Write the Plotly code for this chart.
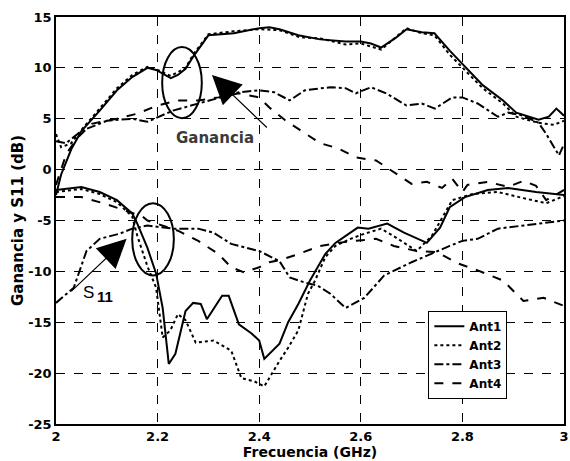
import plotly.graph_objects as go

# ---------------- data ----------------
# Gain curves
g1_x = [2.0, 2.01, 2.03, 2.05, 2.086, 2.12, 2.15, 2.18, 2.197, 2.215, 2.226, 2.24, 2.255, 2.27, 2.30, 2.35, 2.40, 2.42, 2.44, 2.477, 2.52, 2.57, 2.60, 2.62, 2.64, 2.67, 2.69, 2.72, 2.745, 2.775, 2.805, 2.84, 2.88, 2.906, 2.95, 2.97, 2.985, 3.0]
g1_y = [-2.5, -0.5, 2.0, 3.8, 5.8, 7.8, 9.1, 10.0, 9.8, 9.3, 9.0, 9.3, 9.9, 11.1, 13.2, 13.4, 13.9, 14.0, 13.8, 13.2, 12.8, 12.6, 12.6, 12.4, 12.0, 13.0, 13.8, 13.5, 13.4, 11.7, 10.1, 8.3, 6.8, 5.6, 4.9, 5.2, 6.0, 5.3]

g2_x = [2.0, 2.01, 2.03, 2.05, 2.086, 2.12, 2.15, 2.18, 2.2, 2.226, 2.255, 2.27, 2.3, 2.35, 2.4, 2.44, 2.48, 2.52, 2.57, 2.6, 2.64, 2.69, 2.72, 2.745, 2.775, 2.805, 2.84, 2.88, 2.906, 2.95, 2.98, 3.0]
g2_y = [3.5, 2.2, 2.6, 3.9, 6.0, 8.0, 9.3, 10.1, 9.8, 9.2, 10.0, 11.3, 13.3, 13.6, 13.8, 13.7, 13.0, 12.9, 12.3, 12.4, 11.8, 13.9, 13.4, 13.2, 11.3, 9.8, 8.0, 6.5, 5.2, 4.6, 4.4, 4.8]

g3_x = [2.0, 2.02, 2.05, 2.1, 2.15, 2.18, 2.23, 2.28, 2.32, 2.36, 2.4, 2.43, 2.46, 2.49, 2.54, 2.57, 2.59, 2.62, 2.65, 2.69, 2.72, 2.746, 2.78, 2.80, 2.83, 2.87, 2.89, 2.92, 2.95, 2.965, 2.99, 3.0]
g3_y = [2.8, 2.6, 3.8, 4.8, 5.0, 4.7, 5.8, 6.5, 7.1, 7.6, 7.8, 7.6, 6.8, 7.8, 8.1, 8.0, 7.5, 8.1, 7.5, 6.3, 6.5, 6.0, 7.1, 7.1, 6.5, 5.2, 5.6, 5.3, 4.6, 3.5, 1.4, 2.5]

g4_x = [2.0, 2.02, 2.04, 2.07, 2.12, 2.16, 2.2, 2.24, 2.28, 2.32, 2.36, 2.4, 2.42, 2.45, 2.48, 2.52, 2.555, 2.59, 2.63, 2.66, 2.70, 2.73, 2.76, 2.78, 2.80, 2.81, 2.85, 2.89, 2.92, 2.945, 2.965, 3.0]
g4_y = [-1.5, 1.5, 3.0, 4.5, 5.0, 5.5, 6.3, 6.8, 6.8, 7.1, 7.5, 7.1, 6.1, 4.9, 3.9, 2.6, 2.1, 1.2, 0.9, -0.1, -1.4, -1.2, -1.8, -0.9, -2.2, -1.5, -1.2, -1.7, -1.1, -1.6, -3.0, -2.0]

# S11 curves
s1_x = [2.0, 2.05, 2.086, 2.12, 2.15, 2.16, 2.18, 2.197, 2.21, 2.222, 2.235, 2.255, 2.27, 2.285, 2.297, 2.327, 2.34, 2.36, 2.385, 2.40, 2.41, 2.44, 2.457, 2.477, 2.50, 2.53, 2.55, 2.57, 2.594, 2.615, 2.652, 2.685, 2.73, 2.756, 2.775, 2.805, 2.85, 2.89, 2.945, 3.0]
s1_y = [-2.0, -1.7, -2.2, -3.0, -4.3, -5.3, -7.7, -10.2, -13.6, -19.1, -18.1, -13.9, -13.1, -13.2, -14.7, -12.4, -12.4, -15.2, -16.1, -16.8, -18.6, -17.1, -15.0, -13.2, -10.9, -8.3, -7.2, -6.5, -5.7, -5.8, -5.3, -6.2, -7.2, -5.7, -3.7, -2.7, -2.0, -1.8, -2.2, -2.5]

s2_x = [2.0, 2.05, 2.086, 2.12, 2.15, 2.16, 2.18, 2.197, 2.21, 2.225, 2.24, 2.255, 2.275, 2.31, 2.345, 2.365, 2.39, 2.41, 2.44, 2.457, 2.477, 2.496, 2.51, 2.53, 2.55, 2.58, 2.607, 2.64, 2.67, 2.71, 2.74, 2.78, 2.82, 2.87, 2.92, 2.965, 3.0]
s2_y = [-2.2, -1.9, -2.4, -3.2, -4.6, -6.5, -9.5, -11.6, -16.5, -15.8, -14.2, -14.8, -17.0, -16.8, -17.8, -20.5, -20.8, -21.3, -18.8, -17.5, -15.8, -12.2, -10.9, -8.6, -7.5, -6.8, -6.3, -5.8, -6.7, -8.0, -6.5, -3.0, -2.4, -2.2, -2.8, -3.3, -2.6]

s3_x = [2.0, 2.035, 2.06, 2.086, 2.125, 2.15, 2.18, 2.23, 2.28, 2.31, 2.345, 2.40, 2.44, 2.46, 2.49, 2.515, 2.54, 2.57, 2.607, 2.646, 2.70, 2.745, 2.775, 2.80, 2.83, 2.87, 2.92, 2.965, 3.0]
s3_y = [-13.1, -11.6, -8.0, -6.8, -6.3, -5.8, -5.5, -5.8, -5.8, -6.2, -7.3, -8.0, -9.0, -10.6, -11.1, -11.4, -12.2, -13.6, -12.6, -10.4, -9.1, -8.1, -7.5, -7.0, -6.8, -5.8, -5.5, -5.2, -5.0]

s4_x = [2.0, 2.05, 2.10, 2.15, 2.17, 2.18, 2.24, 2.28, 2.32, 2.345, 2.37, 2.40, 2.42, 2.44, 2.477, 2.52, 2.555, 2.59, 2.63, 2.665, 2.71, 2.75, 2.79, 2.83, 2.88, 2.92, 2.96, 3.0]
s4_y = [-2.7, -2.7, -3.4, -4.3, -4.6, -5.0, -6.0, -7.0, -8.3, -9.6, -10.1, -9.6, -9.1, -8.9, -8.3, -7.5, -7.2, -7.0, -6.8, -7.5, -8.0, -8.1, -9.2, -9.9, -10.9, -12.9, -12.6, -13.4]

names = ["Ant1", "Ant2", "Ant3", "Ant4"]
dashes = ["solid", "dot", "dashdot", "dash"]
gain = [(g1_x, g1_y), (g2_x, g2_y), (g3_x, g3_y), (g4_x, g4_y)]
s11 = [(s1_x, s1_y), (s2_x, s2_y), (s3_x, s3_y), (s4_x, s4_y)]

x_ticks = [2, 2.2, 2.4, 2.6, 2.8, 3]
y_ticks = [-25, -20, -15, -10, -5, 0, 5, 10, 15]

# ---------------- figure ----------------
FONT = "DejaVu Sans"
fig = go.Figure()
for i in range(4):
    fig.add_trace(go.Scatter(x=gain[i][0], y=gain[i][1], mode="lines", name=names[i],
                             legendgroup=names[i],
                             line=dict(color="black", width=2, dash=dashes[i])))
for i in range(4):
    fig.add_trace(go.Scatter(x=s11[i][0], y=s11[i][1], mode="lines", name=names[i],
                             legendgroup=names[i], showlegend=False,
                             line=dict(color="black", width=2, dash=dashes[i])))

font_b = dict(family=FONT, size=13, color="black", weight="bold")

# ellipses
fig.add_shape(type="circle", xref="x", yref="y", x0=2.209, x1=2.287, y0=5.05, y1=12.04,
              line=dict(color="black", width=2))
fig.add_shape(type="circle", xref="x", yref="y", x0=2.150, x1=2.232, y0=-10.4, y1=-3.3,
              line=dict(color="black", width=2))

# arrows
fig.add_annotation(x=2.307, y=9.3, ax=2.418, ay=4.0, xref="x", yref="y", axref="x", ayref="y",
                   text="", showarrow=True, arrowhead=2, arrowsize=4.8, arrowwidth=1.2,
                   arrowcolor="black")
fig.add_annotation(x=2.139, y=-6.8, ax=2.027, ay=-12.1, xref="x", yref="y", axref="x", ayref="y",
                   text="", showarrow=True, arrowhead=2, arrowsize=4.8, arrowwidth=1.2,
                   arrowcolor="black")
fig.add_annotation(x=2.3125, y=3.1, xref="x", yref="y", text="Ganancia", showarrow=False,
                   font=dict(family=FONT, size=15, color="#3a3a3a", weight="bold"))
fig.add_annotation(x=2.0635, y=-12.1, xref="x", yref="y", text="S", showarrow=False,
                   font=dict(family="Liberation Sans", size=17, color="black"))
fig.add_annotation(x=2.0957, y=-12.5, xref="x", yref="y", text="11", showarrow=False,
                   font=dict(family="Liberation Sans", size=15, color="black", weight="bold"))

axis_common = dict(showgrid=True, gridcolor="black", griddash="dash", gridwidth=1,
                   showline=True, linecolor="black", linewidth=1.5, mirror=True,
                   ticks="", zeroline=False, tickfont=font_b, ticklabeloverflow="allow")

fig.update_xaxes(range=[2, 3], tickvals=x_ticks, ticktext=[str(t) for t in x_ticks],
                 title=dict(text="Frecuencia (GHz)", font=dict(family=FONT, size=14, color="black", weight="bold"), standoff=0),
                 **axis_common)
fig.update_yaxes(range=[-25, 15], tickvals=y_ticks, ticktext=[str(t) for t in y_ticks],
                 title=dict(text="Ganancia y S11 (dB)", font=dict(family=FONT, size=15, color="black", weight="bold"), standoff=1),
                 **axis_common)

fig.update_layout(
    width=570, height=461,
    margin=dict(l=56, r=1, t=17, b=37),
    paper_bgcolor="white", plot_bgcolor="white",
    showlegend=True,
    legend=dict(x=0.733, y=0.278, xanchor="left", yanchor="top",
                bgcolor="white", bordercolor="black", borderwidth=1,
                font=dict(family=FONT, size=12, color="black", weight="bold"),
                tracegroupgap=0, itemwidth=30),
)

fig.write_html("out.html")
